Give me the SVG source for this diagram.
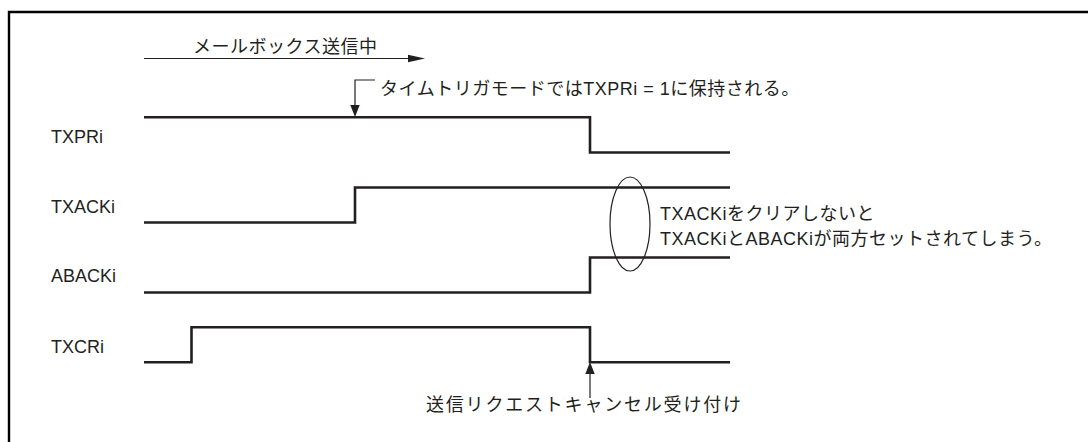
<svg xmlns="http://www.w3.org/2000/svg" width="1088" height="442" viewBox="0 0 1088 442">
<style>
  .txt { font-family: "Liberation Sans", "Noto Sans CJK JP", sans-serif; font-size: 18px; fill: #231f20; }
  .jp { letter-spacing: 0.5px; }
  .sig { fill: none; stroke: #231f20; stroke-width: 2.6; stroke-linejoin: miter; }
  .thin { fill: none; stroke: #231f20; stroke-width: 1.2; }
  .head { fill: #231f20; stroke: none; }
</style>
<rect width="1088" height="442" fill="#ffffff"/>
<path d="M9,442 V12 H1088" fill="none" stroke="#000000" stroke-width="2.4"/>

<g id="label-txpri"><text class="txt" x="51" y="143">TXPRi</text></g>
<g id="label-txacki"><text class="txt" x="51" y="212.5">TXACKi</text></g>
<g id="label-abacki"><text class="txt" x="51" y="282">ABACKi</text></g>
<g id="label-txcri"><text class="txt" x="51" y="352.5">TXCRi</text></g>

<g id="signals">
  <path id="wave-txpri" class="sig" d="M144,117.3 H590 V152.5 H730"/>
  <path id="wave-txacki" class="sig" d="M144,222.5 H355 V187.5 H730"/>
  <path id="wave-abacki" class="sig" d="M144,292.5 H590 V257.5 H730"/>
  <path id="wave-txcri" class="sig" d="M144,362.3 H191.5 V327.3 H590 V362.3 H730"/>
</g>

<g id="note-mailbox">
  <text class="txt jp" x="193" y="53">メールボックス送信中</text>
</g>
<g id="note-timetrigger">
  <text class="txt jp" x="380" y="95">タイムトリガモードではTXPRi = 1に保持される。</text>
</g>
<g id="note-both">
  <ellipse class="thin" cx="630" cy="224" rx="20" ry="47"/>
  <text class="txt jp" x="660" y="219.5">TXACKiをクリアしないと</text>
  <text class="txt jp" x="660" y="244.5">TXACKiとABACKiが両方セットされてしまう。</text>
</g>
<g id="note-cancel">
  <text class="txt" x="426" y="411" letter-spacing="1.8">送信リクエストキャンセル受け付け</text>
</g>

<g id="connectors">
  <line class="thin" x1="144" y1="58.5" x2="410" y2="58.5"/>
  <polygon class="head" points="408,54.8 425,58.5 408,62.2"/>
  <path class="thin" d="M375,80 H355 V106"/>
  <polygon class="head" points="350.3,105 359.7,105 355,117"/>
  <line class="thin" x1="590" y1="398" x2="590" y2="373"/>
  <polygon class="head" points="585.3,374 594.7,374 590,362"/>
</g>
</svg>
